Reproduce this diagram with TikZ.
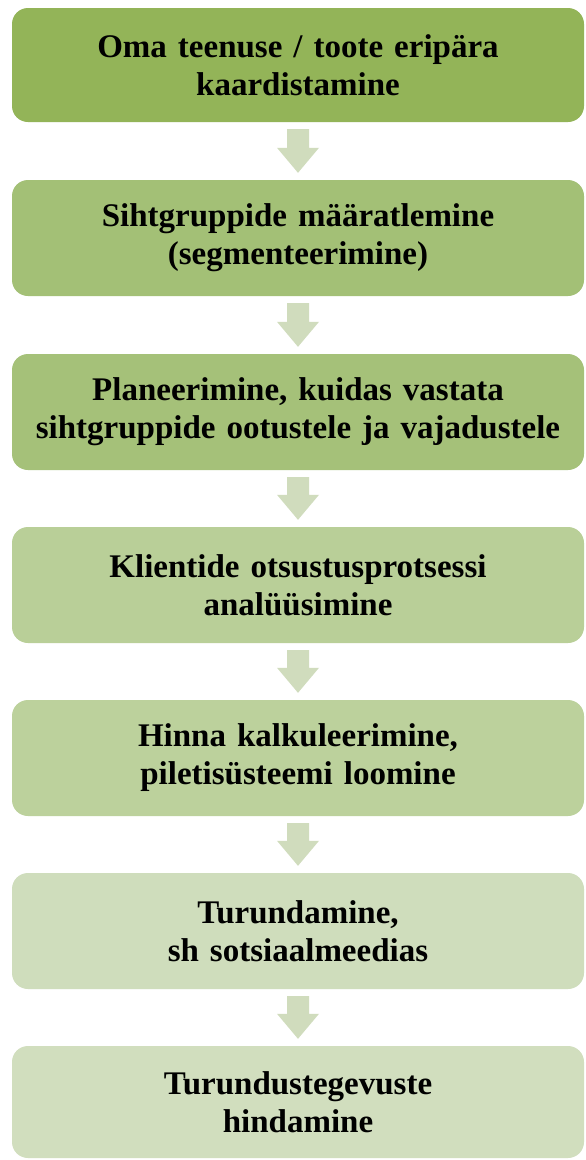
\documentclass[tikz,border=0pt]{standalone}
\usepackage{fontspec}
\setmainfont{Liberation Serif}
\usetikzlibrary{calc}
\definecolor{cA}{RGB}{147,180,88}
\definecolor{cB}{RGB}{163,192,118}
\definecolor{cC}{RGB}{165,193,121}
\definecolor{cD}{RGB}{185,207,152}
\definecolor{cE}{RGB}{188,209,156}
\definecolor{cF}{RGB}{207,221,188}
\definecolor{cG}{RGB}{209,222,190}
\definecolor{arrc}{RGB}{208,220,189}
\tikzset{
  stepbox/.style={rounded corners=16pt, minimum width=572pt, text width=566pt, align=center,
    inner sep=0pt, font=\fontsize{33}{38}\selectfont\bfseries},
  arr/.style={fill=arrc, draw=none}
}
\begin{document}
\begin{tikzpicture}[x=1pt,y=1pt]
\clip (0,0) rectangle (586,-1160);
\fill[white] (0,0) rectangle (586,-1160);
\node[stepbox, fill=cA, minimum height=114pt] (b1) at (298,-65) {Oma teenuse / toote eripära\\kaardistamine};
\node[stepbox, fill=cB, minimum height=116pt] (b2) at (298,-238) {Sihtgruppide määratlemine\\(segmenteerimine)};
\node[stepbox, fill=cC, minimum height=116pt] (b3) at (298,-412) {Planeerimine, kuidas vastata\\sihtgruppide ootustele ja vajadustele};
\node[stepbox, fill=cD, minimum height=116pt] (b4) at (298,-585) {Klientide otsustusprotsessi\\analüüsimine};
\node[stepbox, fill=cE, minimum height=116pt] (b5) at (298,-758) {Hinna kalkuleerimine,\\piletisüsteemi loomine};
\node[stepbox, fill=cF, minimum height=116pt] (b6) at (298,-931) {Turundamine,\\sh sotsiaalmeedias};
\node[stepbox, fill=cG, minimum height=112pt] (b7) at (298,-1102) {Turundustegevuste\\hindamine};
\foreach \a/\b in {b1/b2,b2/b3,b3/b4,b4/b5,b5/b6,b6/b7}{
  \fill[arr] ($(\a.south)+(-11,-7)$) -- ($(\a.south)+(11,-7)$) -- ($(\b.north)+(11,32)$)
    -- ($(\b.north)+(21,32)$) -- ($(\b.north)+(0,7)$) -- ($(\b.north)+(-21,32)$)
    -- ($(\b.north)+(-11,32)$) -- cycle;
}
\end{tikzpicture}
\end{document}
